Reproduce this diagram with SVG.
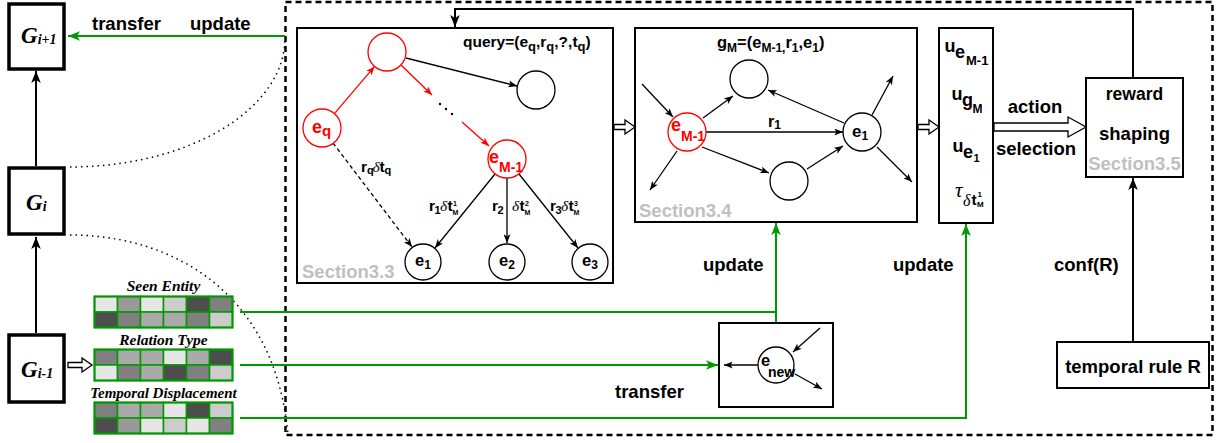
<svg xmlns="http://www.w3.org/2000/svg" width="1218" height="443" viewBox="0 0 1218 443">
<defs>
<style>
.b{font-family:"Liberation Sans",Arial,sans-serif;font-weight:bold;fill:#000}
.sr{font-family:"Liberation Serif","Times New Roman",serif;font-style:italic;font-weight:normal}
.bi{font-family:"Liberation Serif","Times New Roman",serif;font-weight:bold;font-style:italic;fill:#000}
.grey{fill:#bfbfbf}
.red{fill:#ff0000}
.box{fill:#fff;stroke:#000;stroke-width:2}
.gb{fill:#fff;stroke:#000;stroke-width:3.5}
.nd{fill:#fff;stroke:#000;stroke-width:1.3}
.nr{fill:#fff;stroke:#ff0000;stroke-width:1.3}
.ln{fill:none;stroke:#000;stroke-width:1.3;marker-end:url(#ak)}
.lr{fill:none;stroke:#ff0000;stroke-width:1.3;marker-end:url(#ar)}
.lg{fill:none;stroke:#009900;stroke-width:2;marker-end:url(#ag)}
.lgn{fill:none;stroke:#009900;stroke-width:2}
.lb{fill:none;stroke:#000;stroke-width:2;marker-end:url(#akb)}
.hol{fill:#fff;stroke:#000;stroke-width:1.3}
.dot{fill:none;stroke:#000;stroke-width:1.5;stroke-dasharray:1.5 4}
.c{stroke:#009900;stroke-width:1.5}
.c1{fill:#e6e6e6}.c2{fill:#cccccc}.c3{fill:#aaaaaa}.c4{fill:#999999}.c5{fill:#808080}.c6{fill:#4d4d4d}
</style>
<marker id="ak" viewBox="0 0 10 8" refX="10" refY="4" markerWidth="9" markerHeight="7" orient="auto" markerUnits="userSpaceOnUse"><path d="M0,0 L10,4 L0,8 L2.5,4 z" fill="#000"/></marker>
<marker id="akb" viewBox="0 0 10 8" refX="10" refY="4" markerWidth="12" markerHeight="10" orient="auto" markerUnits="userSpaceOnUse"><path d="M0,0 L10,4 L0,8 L2.5,4 z" fill="#000"/></marker>
<marker id="ar" viewBox="0 0 10 8" refX="10" refY="4" markerWidth="9" markerHeight="7" orient="auto" markerUnits="userSpaceOnUse"><path d="M0,0 L10,4 L0,8 L2.5,4 z" fill="#ff0000"/></marker>
<marker id="ag" viewBox="0 0 10 8" refX="10" refY="4" markerWidth="12" markerHeight="10" orient="auto" markerUnits="userSpaceOnUse"><path d="M0,0 L10,4 L0,8 L2.5,4 z" fill="#009900"/></marker>
</defs>

<!-- outer dashed frame -->
<rect x="285.5" y="2" width="927" height="433" fill="none" stroke="#000" stroke-width="2.5" stroke-dasharray="6 4"/>

<!-- connectors -->
<g id="connectors">
  <path class="dot" d="M70,167 A215,129 0 0 0 285,38"/>
  <path class="dot" d="M70,235 C170,235 275,290 288,435"/>
  <path class="lb" d="M36,333 V237"/>
  <path class="lb" d="M36,166 V71"/>
  <path class="hol" d="M68,362.5 H82 V358 L92,365 L82,372 V367.5 H68 Z"/>
  <path class="lg" d="M285,36 H68"/>
  <path class="lgn" d="M240,312 H776"/>
  <path class="lg" d="M776,322 V223"/>
  <path class="lg" d="M240,365 H718"/>
  <path class="lg" d="M240,418 H966 V224"/>
  <path class="lb" d="M1133,78 V9 H455 V27"/>
  <path class="lb" d="M1133,342 V178"/>
  <path class="hol" d="M614,124.5 H625 V120 L635,127 L625,134 V129.5 H614 Z"/>
  <path class="hol" d="M918,124.5 H929 V120 L939,127 L929,134 V129.5 H918 Z"/>
  <path class="hol" d="M994,123 H1068 V117 L1086,127 L1068,137 V131 H994 Z"/>
</g>

<!-- G nodes -->
<g id="g-next"><rect class="gb" x="9" y="4" width="55" height="65"/><text class="bi" x="21" y="43" font-size="23">G<tspan font-size="14" dy="1">i+1</tspan></text></g>
<g id="g-cur"><rect class="gb" x="9" y="168" width="55" height="66"/><text class="bi" x="26" y="210" font-size="23">G<tspan font-size="14" dy="1">i</tspan></text></g>
<g id="g-prev"><rect class="gb" x="9" y="335" width="55" height="67"/><text class="bi" x="21" y="377" font-size="23">G<tspan font-size="14" dy="1">i-1</tspan></text></g>

<g id="labels-top">
  <text class="b" x="92" y="30" font-size="18.5">transfer</text>
  <text class="b" x="190" y="30" font-size="18.5">update</text>
</g>

<!-- embeddings -->
<g id="emb-seen">
  <text class="bi" x="163.5" y="291" font-size="15.5" text-anchor="middle">Seen Entity</text>
  <g transform="translate(94.5,296.5)">
    <rect class="c c1" x="0" y="0" width="23" height="15.5"/><rect class="c c4" x="23" y="0" width="23" height="15.5"/><rect class="c c1" x="46" y="0" width="23" height="15.5"/><rect class="c c2" x="69" y="0" width="23" height="15.5"/><rect class="c c6" x="92" y="0" width="23" height="15.5"/><rect class="c c5" x="115" y="0" width="23" height="15.5"/>
    <rect class="c c6" x="0" y="15.5" width="23" height="15.5"/><rect class="c c5" x="23" y="15.5" width="23" height="15.5"/><rect class="c c3" x="46" y="15.5" width="23" height="15.5"/><rect class="c c3" x="69" y="15.5" width="23" height="15.5"/><rect class="c c5" x="92" y="15.5" width="23" height="15.5"/><rect class="c c2" x="115" y="15.5" width="23" height="15.5"/>
    <rect x="0" y="0" width="138" height="31" fill="none" stroke="#009900" stroke-width="2"/>
  </g>
</g>
<g id="emb-rel">
  <text class="bi" x="163.5" y="345" font-size="15.5" text-anchor="middle">Relation Type</text>
  <g transform="translate(94.5,349.5)">
    <rect class="c c5" x="0" y="0" width="23" height="15.5"/><rect class="c c3" x="23" y="0" width="23" height="15.5"/><rect class="c c3" x="46" y="0" width="23" height="15.5"/><rect class="c c1" x="69" y="0" width="23" height="15.5"/><rect class="c c3" x="92" y="0" width="23" height="15.5"/><rect class="c c6" x="115" y="0" width="23" height="15.5"/>
    <rect class="c c1" x="0" y="15.5" width="23" height="15.5"/><rect class="c c5" x="23" y="15.5" width="23" height="15.5"/><rect class="c c3" x="46" y="15.5" width="23" height="15.5"/><rect class="c c6" x="69" y="15.5" width="23" height="15.5"/><rect class="c c5" x="92" y="15.5" width="23" height="15.5"/><rect class="c c2" x="115" y="15.5" width="23" height="15.5"/>
    <rect x="0" y="0" width="138" height="31" fill="none" stroke="#009900" stroke-width="2"/>
  </g>
</g>
<g id="emb-temp">
  <text class="bi" x="163.5" y="398" font-size="15" text-anchor="middle">Temporal Displacement</text>
  <g transform="translate(94.5,402.5)">
    <rect class="c c5" x="0" y="0" width="23" height="15.5"/><rect class="c c3" x="23" y="0" width="23" height="15.5"/><rect class="c c3" x="46" y="0" width="23" height="15.5"/><rect class="c c1" x="69" y="0" width="23" height="15.5"/><rect class="c c6" x="92" y="0" width="23" height="15.5"/><rect class="c c2" x="115" y="0" width="23" height="15.5"/>
    <rect class="c c6" x="0" y="15.5" width="23" height="15.5"/><rect class="c c4" x="23" y="15.5" width="23" height="15.5"/><rect class="c c1" x="46" y="15.5" width="23" height="15.5"/><rect class="c c2" x="69" y="15.5" width="23" height="15.5"/><rect class="c c1" x="92" y="15.5" width="23" height="15.5"/><rect class="c c5" x="115" y="15.5" width="23" height="15.5"/>
    <rect x="0" y="0" width="138" height="31" fill="none" stroke="#009900" stroke-width="2"/>
  </g>
</g>

<!-- Section 3.3 -->
<g id="sec33">
  <rect class="box" x="297" y="28" width="316" height="255"/>
  <text class="b" x="463" y="47" font-size="15.5">query=(e<tspan font-size="13" dy="4">q</tspan><tspan dy="-4">,r</tspan><tspan font-size="13" dy="4">q</tspan><tspan dy="-4">,?,t</tspan><tspan font-size="13" dy="4">q</tspan><tspan dy="-4">)</tspan></text>
  <path class="lr" d="M334.4,113.6 L374.6,66.4"/>
  <path class="lr" d="M401,65 L432,95"/>
  <path class="lr" d="M462,122 L489,146"/>
  <circle cx="440" cy="104" r="1.2" fill="#000"/><circle cx="446" cy="109" r="1.2" fill="#000"/><circle cx="452" cy="114" r="1.2" fill="#000"/>
  <path class="ln" d="M406,58 L517,86"/>
  <path class="ln" d="M333,143 L412,247" stroke-dasharray="4 3"/>
  <path class="ln" d="M495,174 L435,248"/>
  <path class="ln" d="M507,178 V243"/>
  <path class="ln" d="M519,174 L578,248"/>
  <circle class="nr" cx="387" cy="52" r="19"/>
  <circle class="nr" cx="322" cy="128" r="19"/>
  <circle class="nd" cx="536" cy="90" r="19"/>
  <circle class="nr" cx="507" cy="159" r="19"/>
  <circle class="nd" cx="423" cy="262" r="18"/>
  <circle class="nd" cx="507" cy="262" r="18"/>
  <circle class="nd" cx="590" cy="262" r="18"/>
  <text class="b red" x="312" y="133" font-size="18">e<tspan font-size="15" dy="3">q</tspan></text>
  <text class="b red" x="489" y="163" font-size="18">e<tspan font-size="14" dy="9">M-1</tspan></text>
  <text class="b" x="415" y="266" font-size="16.5">e<tspan font-size="12" dy="3">1</tspan></text>
  <text class="b" x="499" y="266" font-size="16.5">e<tspan font-size="12" dy="3">2</tspan></text>
  <text class="b" x="582" y="266" font-size="16.5">e<tspan font-size="12" dy="3">3</tspan></text>
  <text class="b" font-size="15.5" y="172"><tspan x="361">r</tspan><tspan x="367" font-size="11" dy="2">q</tspan><tspan class="sr" x="372.5" dy="-2">δ</tspan><tspan x="379.5">t</tspan><tspan x="384.5" font-size="11" dy="2">q</tspan></text>
  <text class="b" font-size="15.5" y="211"><tspan x="429">r</tspan><tspan x="434.5" font-size="11" dy="3">1</tspan><tspan class="sr" x="440" dy="-3">δ</tspan><tspan x="447.5">t</tspan></text>
  <text class="b" x="453" y="205.5" font-size="7">1</text>
  <text class="b" x="452.5" y="215" font-size="7">M</text>
  <text class="b" font-size="15.5" y="211"><tspan x="492">r</tspan><tspan x="497.5" font-size="11" dy="3">2</tspan><tspan class="sr" x="512" dy="-3">δ</tspan><tspan x="519.5">t</tspan></text>
  <text class="b" x="525" y="205.5" font-size="7">2</text>
  <text class="b" x="524.5" y="215" font-size="7">M</text>
  <text class="b" font-size="15.5" y="211"><tspan x="550">r</tspan><tspan x="555.5" font-size="11" dy="3">3</tspan><tspan class="sr" x="561" dy="-3">δ</tspan><tspan x="568.5">t</tspan></text>
  <text class="b" x="574" y="205.5" font-size="7">3</text>
  <text class="b" x="573.5" y="215" font-size="7">M</text>
  <text class="b grey" x="302" y="278" font-size="18.5">Section3.3</text>
</g>

<!-- Section 3.4 -->
<g id="sec34">
  <rect class="box" x="635" y="28" width="282" height="194"/>
  <text class="b" x="717" y="48" font-size="16.5">g<tspan font-size="12" dy="4">M</tspan><tspan dy="-4">=(e</tspan><tspan font-size="12" dy="4">M-1,</tspan><tspan dy="-4">r</tspan><tspan font-size="12" dy="4">1</tspan><tspan dy="-4">,e</tspan><tspan font-size="12" dy="4">1</tspan><tspan dy="-4">)</tspan></text>
  <path class="ln" d="M642,84 L673,117"/>
  <path class="ln" d="M677,151 L650,190"/>
  <path class="ln" d="M703,118 L733,96"/>
  <path class="ln" d="M706,132 H843"/>
  <path class="ln" d="M702,147 L769,173"/>
  <path class="ln" d="M807,169 L843,146"/>
  <path class="ln" d="M844,123 L768,90"/>
  <path class="ln" d="M872,115 L893,76"/>
  <path class="ln" d="M877,147 L912,182"/>
  <circle class="nd" cx="749" cy="79" r="19"/>
  <circle class="nr" cx="687" cy="132" r="19"/>
  <circle class="nd" cx="862" cy="132" r="19"/>
  <circle class="nd" cx="789" cy="181" r="19"/>
  <text class="b red" x="671" y="131" font-size="18">e<tspan font-size="14" dy="10">M-1</tspan></text>
  <text class="b" x="852" y="137" font-size="17">e<tspan font-size="12" dy="3">1</tspan></text>
  <text class="b" x="768" y="127" font-size="16">r<tspan font-size="12" dy="2">1</tspan></text>
  <text class="b grey" x="639" y="217" font-size="18.5">Section3.4</text>
</g>

<!-- vector box -->
<g id="vec">
  <rect class="box" x="939" y="28" width="54" height="195"/>
  <text class="b" font-size="18"><tspan x="944.5" y="52">u</tspan><tspan x="955" y="58">e</tspan><tspan x="966" y="65" font-size="13">M-1</tspan></text>
  <text class="b" font-size="18"><tspan x="951.5" y="100">u</tspan><tspan x="962" y="106">g</tspan><tspan x="972.5" y="113" font-size="12">M</tspan></text>
  <text class="b" font-size="18"><tspan x="952.5" y="152">u</tspan><tspan x="963" y="158">e</tspan><tspan x="973.5" y="162" font-size="11">1</tspan></text>
  <text class="sr" x="955" y="197" font-size="21">τ</text>
  <text class="sr" x="963" y="206" font-size="16">δ</text>
  <text class="b" x="971.5" y="205" font-size="15.5">t</text>
  <text class="b" x="977.5" y="196.5" font-size="8">1</text>
  <text class="b" x="977" y="207" font-size="8">M</text>
</g>
<g id="action-label">
  <text class="b" x="1035" y="113" font-size="18.5" text-anchor="middle">action</text>
  <text class="b" x="1036" y="155" font-size="18.5" text-anchor="middle">selection</text>
</g>

<!-- reward shaping -->
<g id="reward">
  <rect class="box" x="1086" y="78" width="97" height="99"/>
  <text class="b" x="1134.5" y="100" font-size="17.5" text-anchor="middle">reward</text>
  <text class="b" x="1134.5" y="140" font-size="18.5" text-anchor="middle">shaping</text>
  <text class="b grey" x="1134.5" y="170" font-size="18.5" text-anchor="middle">Section3.5</text>
</g>

<!-- temporal rule -->
<g id="rule">
  <rect class="box" x="1057" y="342" width="152" height="46"/>
  <text class="b" x="1133" y="373" font-size="18.5" text-anchor="middle">temporal rule R</text>
</g>
<g id="labels-bottom">
  <text class="b" x="703" y="271" font-size="18.5">update</text>
  <text class="b" x="893" y="271" font-size="18.5">update</text>
  <text class="b" x="1054" y="271" font-size="18.5">conf(R)</text>
  <text class="b" x="615" y="398" font-size="18.5">transfer</text>
</g>

<!-- new entity -->
<g id="new-entity">
  <rect class="box" x="719" y="323" width="114" height="84"/>
  <path class="ln" d="M758,365 H724"/>
  <path class="ln" d="M820,328 L793,352"/>
  <path class="ln" d="M795,374 L822,389"/>
  <circle class="nd" cx="776" cy="365" r="18"/>
  <text class="b" x="761" y="366" font-size="16.5">e</text>
  <text class="b" x="768" y="377" font-size="14">new</text>
</g>
</svg>
